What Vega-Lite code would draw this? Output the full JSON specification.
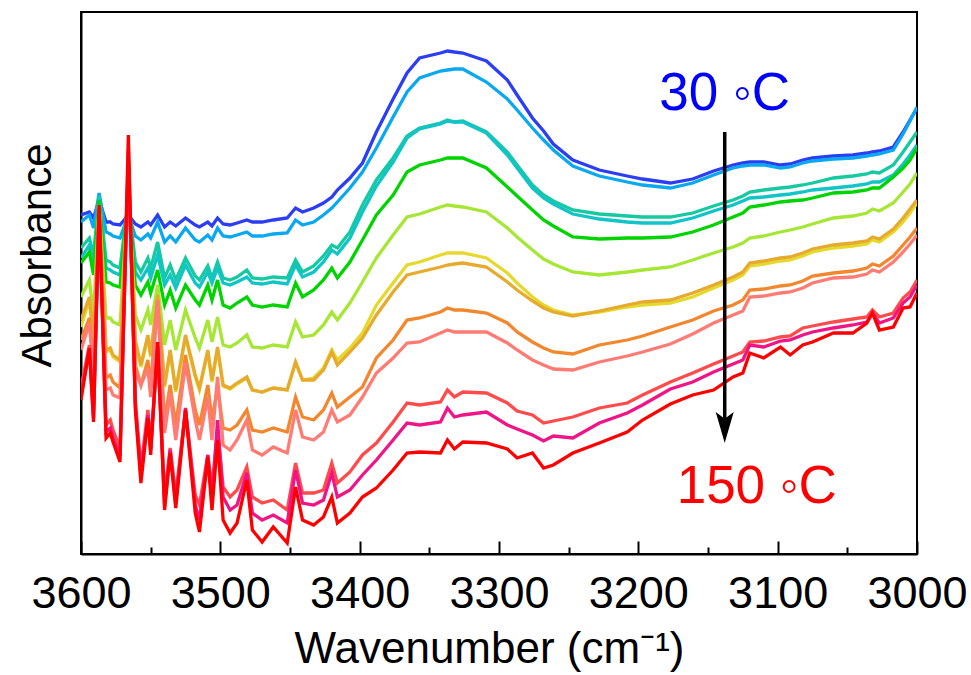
{
  "$schema": "https://vega.github.io/schema/vega-lite/v6.json",
  "width": 836,
  "height": 542,
  "autosize": {"type": "none"},
  "padding": {"left": 81, "top": 12, "right": 54, "bottom": 121},
  "background": "white",
  "config": {
    "view": {"stroke": "black", "strokeWidth": 2},
    "axis": {"labelFont": "Liberation Sans", "titleFont": "Liberation Sans", "labelColor": "black", "titleColor": "black", "titleFontWeight": "normal", "domainColor": "black", "domainWidth": 2, "tickColor": "black", "tickWidth": 2, "grid": false}
  },
  "datasets": {
    "spectra": [
      {"x":3600,"c01":385,"c02":378,"c03":352,"c04":342,"c05":337,"c06":303,"c07":273,"c08":280,"c09":260,"c10":250,"c11":212,"c12":205,"c13":200},
      {"x":3594,"c01":388,"c02":385,"c03":362,"c04":355,"c05":348,"c06":320,"c07":300,"c08":303,"c09":282,"c10":277,"c11":255,"c12":250,"c13":252},
      {"x":3591,"c01":382,"c02":372,"c03":345,"c04":335,"c05":325,"c06":285,"c07":257,"c08":260,"c09":235,"c10":225,"c11":190,"c12":182,"c13":178},
      {"x":3587,"c01":400,"c02":407,"c03":404,"c04":402,"c05":400,"c06":395,"c07":393,"c08":393,"c09":392,"c10":390,"c11":393,"c12":392,"c13":395},
      {"x":3582,"c01":378,"c02":368,"c03":340,"c04":332,"c05":318,"c06":282,"c07":248,"c08":250,"c09":222,"c10":210,"c11":175,"c12":168,"c13":162},
      {"x":3579,"c01":378,"c02":366,"c03":338,"c04":330,"c05":317,"c06":282,"c07":250,"c08":252,"c09":225,"c10":212,"c11":180,"c12":172,"c13":167},
      {"x":3577,"c01":376,"c02":364,"c03":335,"c04":328,"c05":315,"c06":278,"c07":243,"c08":245,"c09":218,"c10":205,"c11":170,"c12":162,"c13":158},
      {"x":3572,"c01":375,"c02":362,"c03":332,"c04":325,"c05":313,"c06":275,"c07":238,"c08":240,"c09":212,"c10":202,"c11":152,"c12":144,"c13":138},
      {"x":3566,"c01":385,"c02":385,"c03":400,"c04":400,"c05":405,"c06":410,"c07":418,"c08":420,"c09":425,"c10":430,"c11":440,"c12":450,"c13":465},
      {"x":3561,"c01":376,"c02":364,"c03":338,"c04":328,"c05":315,"c06":285,"c07":257,"c08":260,"c09":235,"c10":228,"c11":200,"c12":195,"c13":190},
      {"x":3557,"c01":373,"c02":360,"c03":328,"c04":320,"c05":305,"c06":270,"c07":233,"c08":235,"c09":215,"c10":215,"c11":132,"c12":125,"c13":117},
      {"x":3552,"c01":378,"c02":366,"c03":342,"c04":332,"c05":318,"c06":290,"c07":262,"c08":265,"c09":240,"c10":232,"c11":190,"c12":185,"c13":182},
      {"x":3550,"c01":375,"c02":362,"c03":332,"c04":322,"c05":307,"c06":275,"c07":243,"c08":245,"c09":215,"c10":203,"c11":155,"c12":150,"c13":145},
      {"x":3545,"c01":385,"c02":378,"c03":358,"c04":345,"c05":330,"c06":315,"c07":302,"c08":305,"c09":300,"c10":300,"c11":252,"c12":255,"c13":258},
      {"x":3540,"c01":373,"c02":358,"c03":322,"c04":315,"c05":295,"c06":255,"c07":213,"c08":215,"c09":180,"c10":167,"c11":105,"c12":95,"c13":90},
      {"x":3536,"c01":378,"c02":364,"c03":335,"c04":325,"c05":310,"c06":280,"c07":248,"c08":250,"c09":215,"c10":207,"c11":152,"c12":150,"c13":147},
      {"x":3532,"c01":374,"c02":358,"c03":320,"c04":312,"c05":292,"c06":250,"c07":208,"c08":210,"c09":175,"c10":160,"c11":105,"c12":97,"c13":92},
      {"x":3525,"c01":382,"c02":372,"c03":342,"c04":335,"c05":315,"c06":290,"c07":263,"c08":265,"c09":245,"c10":237,"c11":190,"c12":192,"c13":190},
      {"x":3518,"c01":375,"c02":360,"c03":324,"c04":317,"c05":300,"c06":262,"c07":223,"c08":225,"c09":190,"c10":180,"c11":105,"c12":95,"c13":87},
      {"x":3515,"c01":373,"c02":358,"c03":320,"c04":313,"c05":295,"c06":252,"c07":210,"c08":212,"c09":175,"c10":160,"c11":95,"c12":80,"c13":68},
      {"x":3509,"c01":378,"c02":365,"c03":334,"c04":328,"c05":315,"c06":280,"c07":248,"c08":250,"c09":215,"c10":203,"c11":145,"c12":145,"c13":143},
      {"x":3506,"c01":374,"c02":360,"c03":322,"c04":317,"c05":300,"c06":258,"c07":218,"c08":220,"c09":180,"c10":160,"c11":112,"c12":100,"c13":90},
      {"x":3502,"c01":382,"c02":372,"c03":338,"c04":332,"c05":320,"c06":283,"c07":250,"c08":253,"c09":213,"c10":223,"c11":170,"c12":180,"c13":160},
      {"x":3498,"c01":376,"c02":364,"c03":322,"c04":317,"c05":295,"c06":255,"c07":214,"c08":215,"c09":172,"c10":155,"c11":113,"c12":103,"c13":80},
      {"x":3493,"c01":375,"c02":363,"c03":320,"c04":315,"c05":292,"c06":253,"c07":211,"c08":212,"c09":170,"c10":150,"c11":103,"c12":90,"c13":67},
      {"x":3488,"c01":377,"c02":365,"c03":323,"c04":318,"c05":297,"c06":257,"c07":216,"c08":217,"c09":175,"c10":160,"c11":110,"c12":95,"c13":77},
      {"x":3481,"c01":380,"c02":368,"c03":330,"c04":323,"c05":303,"c06":265,"c07":222,"c08":223,"c09":190,"c10":180,"c11":133,"c12":127,"c13":120},
      {"x":3477,"c01":378,"c02":364,"c03":322,"c04":317,"c05":295,"c06":253,"c07":210,"c08":210,"c09":170,"c10":150,"c11":103,"c12":87,"c13":70},
      {"x":3470,"c01":378,"c02":364,"c03":321,"c04":316,"c05":293,"c06":252,"c07":208,"c08":208,"c09":168,"c10":145,"c11":97,"c12":80,"c13":58},
      {"x":3462,"c01":380,"c02":366,"c03":323,"c04":318,"c05":295,"c06":255,"c07":212,"c08":212,"c09":172,"c10":153,"c11":100,"c12":85,"c13":73},
      {"x":3452,"c01":382,"c02":367,"c03":322,"c04":316,"c05":293,"c06":253,"c07":210,"c08":210,"c09":168,"c10":147,"c11":90,"c12":77,"c13":57},
      {"x":3446,"c01":392,"c02":380,"c03":340,"c04":335,"c05":317,"c06":278,"c07":238,"c08":238,"c09":203,"c10":190,"c11":137,"c12":130,"c13":113},
      {"x":3441,"c01":388,"c02":375,"c03":328,"c04":323,"c05":303,"c06":263,"c07":220,"c08":220,"c09":183,"c10":163,"c11":107,"c12":97,"c13":80},
      {"x":3433,"c01":392,"c02":378,"c03":334,"c04":328,"c05":310,"c06":265,"c07":222,"c08":220,"c09":180,"c10":160,"c11":107,"c12":95,"c13":75},
      {"x":3426,"c01":397,"c02":385,"c03":344,"c04":338,"c05":320,"c06":275,"c07":232,"c08":230,"c09":190,"c10":168,"c11":110,"c12":100,"c13":83},
      {"x":3420,"c01":403,"c02":392,"c03":355,"c04":350,"c05":332,"c06":288,"c07":250,"c08":248,"c09":207,"c10":190,"c11":137,"c12":127,"c13":103},
      {"x":3416,"c01":410,"c02":398,"c03":352,"c04":346,"c05":322,"c06":280,"c07":240,"c08":235,"c09":193,"c10":178,"c11":117,"c12":103,"c13":77},
      {"x":3407,"c01":422,"c02":412,"c03":368,"c04":362,"c05":338,"c06":297,"c07":252,"c08":248,"c09":203,"c10":185,"c11":128,"c12":110,"c13":87},
      {"x":3398,"c01":437,"c02":428,"c03":395,"c04":388,"c05":360,"c06":318,"c07":267,"c08":262,"c09":213,"c10":203,"c11":145,"c12":125,"c13":103},
      {"x":3388,"c01":468,"c02":452,"c03":420,"c04":414,"c05":385,"c06":342,"c07":295,"c08":285,"c09":242,"c10":227,"c11":157,"c12":140,"c13":112},
      {"x":3376,"c01":501,"c02":483,"c03":442,"c04":438,"c05":405,"c06":365,"c07":317,"c08":308,"c09":260,"c10":242,"c11":178,"c12":160,"c13":130},
      {"x":3366,"c01":527,"c02":508,"c03":464,"c04":462,"c05":428,"c06":383,"c07":335,"c08":325,"c09":280,"c10":257,"c11":197,"c12":177,"c13":147},
      {"x":3357,"c01":542,"c02":522,"c03":472,"c04":471,"c05":435,"c06":386,"c07":338,"c08":328,"c09":282,"c10":258,"c11":195,"c12":175,"c13":148},
      {"x":3342,"c01":547,"c02":529,"c03":477,"c04":476,"c05":440,"c06":393,"c07":345,"c08":333,"c09":288,"c10":267,"c11":198,"c12":178,"c13":147},
      {"x":3337,"c01":549,"c02":530,"c03":480,"c04":479,"c05":442,"c06":395,"c07":347,"c08":335,"c09":292,"c10":270,"c11":210,"c12":192,"c13":160},
      {"x":3332,"c01":548,"c02":531,"c03":478,"c04":478,"c05":442,"c06":394,"c07":347,"c08":336,"c09":290,"c10":268,"c11":203,"c12":183,"c13":151},
      {"x":3326,"c01":547,"c02":531,"c03":479,"c04":478,"c05":442,"c06":393,"c07":347,"c08":337,"c09":290,"c10":268,"c11":208,"c12":185,"c13":158},
      {"x":3309,"c01":539,"c02":518,"c03":468,"c04":467,"c05":432,"c06":388,"c07":342,"c08":333,"c09":287,"c10":268,"c11":207,"c12":188,"c13":157},
      {"x":3294,"c01":520,"c02":501,"c03":448,"c04":445,"c05":413,"c06":372,"c07":327,"c08":318,"c09":277,"c10":257,"c11":197,"c12":175,"c13":151},
      {"x":3287,"c01":505,"c02":490,"c03":435,"c04":432,"c05":404,"c06":363,"c07":317,"c08":310,"c09":268,"c10":250,"c11":189,"c12":171,"c13":142},
      {"x":3276,"c01":482,"c02":472,"c03":415,"c04":412,"c05":390,"c06":350,"c07":303,"c08":299,"c09":258,"c10":240,"c11":185,"c12":165,"c13":147},
      {"x":3268,"c01":469,"c02":460,"c03":405,"c04":402,"c05":380,"c06":341,"c07":295,"c08":292,"c09":252,"c10":235,"c11":177,"c12":159,"c13":132},
      {"x":3261,"c01":456,"c02":450,"c03":399,"c04":396,"c05":374,"c06":336,"c07":290,"c08":288,"c09":248,"c10":231,"c11":179,"c12":164,"c13":135},
      {"x":3247,"c01":440,"c02":434,"c03":390,"c04":386,"c05":363,"c06":328,"c07":285,"c08":284,"c09":246,"c10":230,"c11":183,"c12":162,"c13":147},
      {"x":3228,"c01":430,"c02":424,"c03":386,"c04":381,"c05":361,"c06":325,"c07":288,"c08":289,"c09":255,"c10":238,"c11":192,"c12":177,"c13":157},
      {"x":3208,"c01":424,"c02":418,"c03":384,"c04":378,"c05":362,"c06":328,"c07":293,"c08":295,"c09":260,"c10":244,"c11":197,"c12":187,"c13":168},
      {"x":3197,"c01":421,"c02":415,"c03":383,"c04":377,"c05":362,"c06":330,"c07":295,"c08":298,"c09":264,"c10":248,"c11":205,"c12":195,"c13":180},
      {"x":3177,"c01":417,"c02":412,"c03":383,"c04":377,"c05":363,"c06":333,"c07":297,"c08":300,"c09":273,"c10":256,"c11":218,"c12":211,"c13":196},
      {"x":3161,"c01":421,"c02":417,"c03":387,"c04":382,"c05":368,"c06":340,"c07":303,"c08":307,"c09":280,"c10":266,"c11":227,"c12":218,"c13":205},
      {"x":3146,"c01":429,"c02":425,"c03":394,"c04":389,"c05":375,"c06":347,"c07":312,"c08":315,"c09":289,"c10":277,"c11":236,"c12":228,"c13":210},
      {"x":3132,"c01":435,"c02":432,"c03":400,"c04":395,"c05":383,"c06":353,"c07":320,"c08":323,"c09":295,"c10":285,"c11":244,"c12":236,"c13":223},
      {"x":3125,"c01":437,"c02":434,"c03":404,"c04":399,"c05":387,"c06":357,"c07":325,"c08":328,"c09":300,"c10":289,"c11":248,"c12":240,"c13":227},
      {"x":3120,"c01":438,"c02":435,"c03":408,"c04":402,"c05":393,"c06":362,"c07":334,"c08":337,"c09":310,"c10":303,"c11":258,"c12":255,"c13":247},
      {"x":3110,"c01":438,"c02":435,"c03":410,"c04":403,"c05":395,"c06":364,"c07":336,"c08":339,"c09":311,"c10":304,"c11":259,"c12":253,"c13":242},
      {"x":3098,"c01":435,"c02":432,"c03":412,"c04":405,"c05":398,"c06":368,"c07":339,"c08":342,"c09":314,"c10":307,"c11":263,"c12":259,"c13":253},
      {"x":3091,"c01":436,"c02":433,"c03":413,"c04":406,"c05":399,"c06":370,"c07":340,"c08":343,"c09":315,"c10":308,"c11":264,"c12":260,"c13":245},
      {"x":3082,"c01":440,"c02":437,"c03":415,"c04":408,"c05":400,"c06":373,"c07":344,"c08":347,"c09":319,"c10":312,"c11":272,"c12":265,"c13":255},
      {"x":3075,"c01":442,"c02":439,"c03":417,"c04":410,"c05":402,"c06":376,"c07":348,"c08":351,"c09":324,"c10":317,"c11":274,"c12":268,"c13":258},
      {"x":3060,"c01":444,"c02":441,"c03":422,"c04":412,"c05":407,"c06":382,"c07":352,"c08":355,"c09":327,"c10":322,"c11":278,"c12":272,"c13":267},
      {"x":3046,"c01":445,"c02":442,"c03":424,"c04":414,"c05":408,"c06":384,"c07":354,"c08":357,"c09":329,"c10":323,"c11":281,"c12":275,"c13":267},
      {"x":3036,"c01":447,"c02":444,"c03":426,"c04":416,"c05":410,"c06":387,"c07":356,"c08":359,"c09":332,"c10":326,"c11":283,"c12":278,"c13":277},
      {"x":3032,"c01":448,"c02":445,"c03":428,"c04":418,"c05":412,"c06":391,"c07":360,"c08":363,"c09":336,"c10":330,"c11":290,"c12":287,"c13":287},
      {"x":3027,"c01":449,"c02":446,"c03":427,"c04":418,"c05":412,"c06":389,"c07":358,"c08":361,"c09":334,"c10":328,"c11":283,"c12":277,"c13":270},
      {"x":3017,"c01":453,"c02":450,"c03":435,"c04":425,"c05":423,"c06":397,"c07":368,"c08":371,"c09":344,"c10":338,"c11":287,"c12":282,"c13":273},
      {"x":3010,"c01":468,"c02":466,"c03":448,"c04":436,"c05":432,"c06":408,"c07":378,"c08":382,"c09":355,"c10":348,"c11":302,"c12":297,"c13":292},
      {"x":3005,"c01":480,"c02":479,"c03":458,"c04":445,"c05":440,"c06":416,"c07":387,"c08":391,"c09":363,"c10":356,"c11":308,"c12":303,"c13":293},
      {"x":3000,"c01":492,"c02":493,"c03":468,"c04":455,"c05":452,"c06":427,"c07":397,"c08":400,"c09":372,"c10":365,"c11":320,"c12":315,"c13":307}
    ],
    "arrow": [{"x": 3138, "y": 468, "y2": 180}],
    "tip": [{"x": 3138, "y": 157}],
    "labels": [
      {"x": 3138, "y": 490, "t": "30 ◦C", "c": "hi"},
      {"x": 3115, "y": 97, "t": "150 ◦C", "c": "lo"}
    ]
  },
  "layer": [
    {
      "data": {"name": "spectra"},
      "transform": [{"fold": ["c01","c02","c03","c04","c05","c06","c07","c08","c09","c10","c11","c12","c13"], "as": ["k", "v"]}],
      "mark": {"type": "line", "strokeWidth": 3.3, "clip": true},
      "encoding": {
        "x": {"field": "x", "type": "quantitative", "scale": {"domain": [3600, 3000], "nice": false, "zero": false},
          "axis": {"orient": "bottom", "values": [3600,3500,3400,3300,3200,3100,3000], "format": "d", "tickSize": -13, "labelFontSize": 45, "labelPadding": 30, "labelFlush": false, "labelOverlap": false, "title": "Wavenumber (cm⁻¹)", "titleFontSize": 44, "titleX": 408, "titleY": 108, "titleAlign": "center", "titleBaseline": "alphabetic"}},
        "y": {"field": "v", "type": "quantitative", "scale": {"domain": [46, 588], "nice": false, "zero": false},
          "axis": {"orient": "left", "labels": false, "ticks": false, "title": "Absorbance", "titleFontSize": 42, "titleAngle": 270, "titleX": -31, "titleY": 243, "titleAlign": "center", "titleBaseline": "alphabetic"}},
        "color": {"field": "k", "type": "nominal", "legend": null,
          "scale": {"domain": ["c01","c02","c03","c04","c05","c06","c07","c08","c09","c10","c11","c12","c13"],
                    "range": ["#2b3df5","#0aa8f0","#16c9a0","#10c4c8","#00d400","#a6e634","#e6d92e","#e6aa2e","#f2872e","#ff7b73","#ff4b4b","#f01487","#ff0000"]}}
      }
    },
    {
      "data": {"name": "arrow"},
      "mark": {"type": "rule", "strokeWidth": 3.5, "color": "black"},
      "encoding": {
        "x": {"field": "x", "type": "quantitative", "axis": {"orient": "bottom", "values": [3550,3450,3350,3250,3150,3050], "tickSize": -7, "labels": false, "domain": false, "title": null}},
        "y": {"field": "y", "type": "quantitative", "axis": null},
        "y2": {"field": "y2"}
      }
    },
    {
      "data": {"name": "tip"},
      "mark": {"type": "point", "shape": "M0,0L-0.29,-1L0,-0.78L0.29,-1Z", "size": 3844, "filled": true, "color": "black", "opacity": 1, "strokeWidth": 0},
      "encoding": {
        "x": {"field": "x", "type": "quantitative", "axis": null},
        "y": {"field": "y", "type": "quantitative", "axis": null}
      }
    },
    {
      "data": {"name": "labels"},
      "mark": {"type": "text", "font": "Liberation Sans", "fontSize": 53, "baseline": "alphabetic", "align": "center"},
      "encoding": {
        "x": {"field": "x", "type": "quantitative", "axis": null},
        "y": {"field": "y", "type": "quantitative", "axis": null},
        "text": {"field": "t"},
        "color": {"field": "c", "type": "nominal", "legend": null, "scale": {"domain": ["hi", "lo"], "range": ["#0000ff", "#ff0000"]}}
      }
    }
  ],
  "resolve": {"axis": {"x": "independent", "y": "independent"}, "scale": {"color": "independent"}}
}
